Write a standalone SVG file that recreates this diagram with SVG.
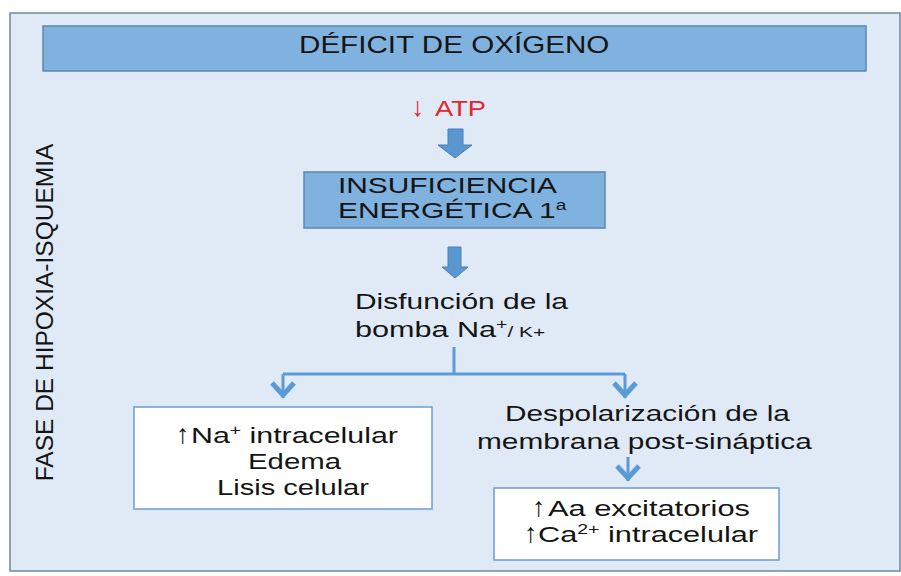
<svg xmlns="http://www.w3.org/2000/svg" width="901" height="576" viewBox="0 0 901 576">
<defs>
<style>
.t{font-family:"Liberation Sans",Arial,sans-serif;font-size:22px;fill:#141414}
.ar{font-family:"Liberation Sans",Arial,sans-serif;font-size:27px;fill:#141414}
.sup{font-size:14px}
.blue{fill:#80b2df;stroke:#5c86b0;stroke-width:1.5}
.white{fill:#ffffff;stroke:#6b9bcf;stroke-width:1.5}
.blk{fill:#5a96cf;stroke:#4a80b5;stroke-width:1}
.con{fill:none;stroke:#5b9bd5;stroke-width:3}
</style>
<marker id="chev" markerUnits="userSpaceOnUse" markerWidth="30" markerHeight="30" refX="0" refY="0" orient="auto" overflow="visible">
<path d="M-15,-11 L-3,0 L-15,11" fill="none" stroke="#5b9bd5" stroke-width="5" stroke-linejoin="miter"/>
</marker>
</defs>
<rect x="0" y="0" width="901" height="576" fill="#ffffff"/>
<g id="frame">
<rect x="10" y="13" width="890" height="558" fill="#e0eaf6" stroke="#70899c" stroke-width="1.5"/>
<text class="t" transform="translate(53,312.5) rotate(-90)" text-anchor="middle" style="font-size:24.5px">FASE DE HIPOXIA-ISQUEMIA</text>
</g>
<g id="deficit">
<rect class="blue" x="43" y="26" width="823" height="45"/>
<text class="t" transform="translate(299,53) scale(1.288,1)" style="font-size:23px">DÉFICIT DE OXÍGENO</text>
</g>
<g id="atp">
<text class="ar" x="411" y="116" style="fill:#e3262b">↓</text>
<text class="t" transform="translate(435,116) scale(1.24,1)" style="fill:#e3262b">ATP</text>
</g>
<g id="insuficiencia">
<rect class="blue" x="304" y="172" width="301" height="56"/>
<text class="t" transform="translate(338,193) scale(1.358,1)">INSUFICIENCIA</text>
<text class="t" transform="translate(338,218) scale(1.36,1)">ENERGÉTICA 1<tspan class="sup" dy="-8">a</tspan></text>
</g>
<g id="disfuncion">
<text class="t" transform="translate(355,309) scale(1.361,1)">Disfunción de la</text>
<text class="t" transform="translate(355,337) scale(1.39,1)">bomba Na<tspan class="sup" dy="-8">+</tspan><tspan style="font-size:15px" dy="8">/ K+</tspan></text>
</g>
<g id="na">
<rect class="white" x="134" y="407" width="298" height="102"/>
<text class="ar" x="176" y="443">↑</text>
<text class="t" transform="translate(191,443) scale(1.38,1)">Na<tspan class="sup" dy="-8">+</tspan><tspan dy="8"> intracelular</tspan></text>
<text class="t" transform="translate(248,469) scale(1.334,1)">Edema</text>
<text class="t" transform="translate(217,495) scale(1.323,1)">Lisis celular</text>
</g>
<g id="despolarizacion">
<text class="t" transform="translate(505,421) scale(1.355,1)">Despolarización de la</text>
<text class="t" transform="translate(477,449) scale(1.356,1)">membrana post-sináptica</text>
</g>
<g id="aa">
<rect class="white" x="494" y="488" width="285" height="72"/>
<text class="ar" x="532" y="516">↑</text>
<text class="t" transform="translate(548,516) scale(1.40,1)">Aa excitatorios</text>
<text class="ar" x="524" y="542">↑</text>
<text class="t" transform="translate(538,542) scale(1.395,1)">Ca<tspan class="sup" dy="-8">2+</tspan><tspan dy="8"> intracelular</tspan></text>
</g>
<g id="connectors">
<path class="blk" d="M448,129 H463 V145 H472 L455,158 L438,145 H448 Z"/>
<path class="blk" d="M448,247 H461 V267 H468 L455,278 L442,267 H448 Z"/>
<path class="con" d="M454,347 V374"/>
<path class="con" d="M283,374 H625"/>
<path class="con" d="M283,374 V398" marker-end="url(#chev)"/>
<path class="con" d="M625,374 V398" marker-end="url(#chev)"/>
<path class="con" d="M628,457 V481" marker-end="url(#chev)"/>
</g>
</svg>
